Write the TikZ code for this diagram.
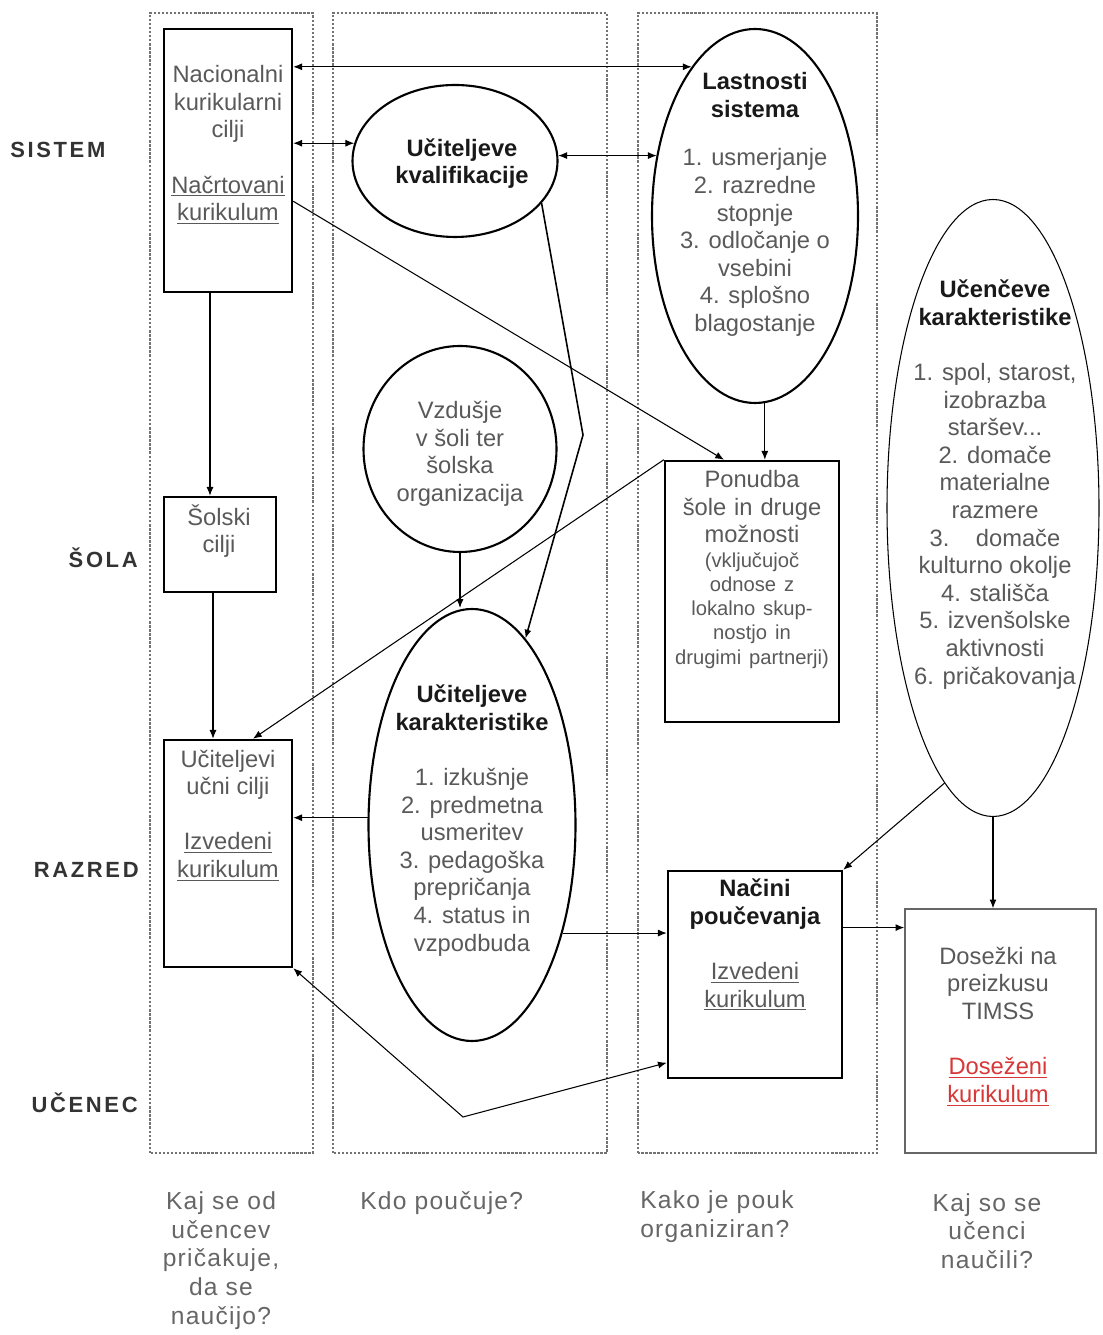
\documentclass[tikz,border=0pt]{standalone}
\usepackage{fontspec}
\setmainfont{Liberation Sans}
\usetikzlibrary{shapes.geometric,arrows.meta}
\definecolor{rdec}{RGB}{215,55,55}
\newcommand{\naslov}[1]{{\color{black!90}\bfseries #1}}

\begin{document}
\begin{tikzpicture}[>={Latex[length=5pt,width=4pt]},
  col/.style={draw=black!55,line width=.6pt,dash pattern=on 1.3pt off 1pt},
  box/.style={draw,rectangle,line width=1.4pt,inner sep=0pt},
  oval/.style={draw,ellipse,line width=1.2pt,inner sep=0pt},
  txt/.style={align=center,inner sep=0pt,text=black!65,font=\fontsize{13.5}{15.7}\selectfont},
  hd/.style={inner sep=0pt,text=black!80,font=\fontsize{12.5}{15}\selectfont\bfseries\addfontfeatures{LetterSpace=12}},
  q/.style={align=center,inner sep=0pt,text=black!60,font=\fontsize{14}{16.3}\selectfont\addfontfeatures{LetterSpace=5}},
  con/.style={line width=.6pt}]
  \useasboundingbox (0,0) rectangle (22.04,26.70);
  \draw[col] (3.00,3.64) rectangle (6.26,26.44);
  \draw[col] (6.66,3.64) rectangle (12.14,26.44);
  \draw[col] (12.76,3.64) rectangle (17.54,26.44);

  \node[hd,anchor=west] (12) at (0.20,23.70) {SISTEM};
  \node[hd,anchor=east] (13) at (2.76,15.54) {ŠOLA};
  \node[hd,anchor=east] (14) at (2.78,9.30) {RAZRED};
  \node[hd,anchor=east] (15) at (2.76,4.64) {UČENEC};

  \node[box,minimum width=2.56cm,minimum height=5.26cm] (1) at (4.56,23.49) {};
  \node[box,minimum width=2.24cm,minimum height=1.90cm] (2) at (4.40,15.81) {};
  \node[box,minimum width=2.56cm,minimum height=4.54cm] (3) at (4.56,9.63) {};
  \node[oval,minimum width=4.10cm,minimum height=3.04cm] (4) at (9.10,23.48) {};
  \node[oval,minimum width=3.86cm,minimum height=4.12cm] (5) at (9.20,17.72) {};
  \node[oval,minimum width=4.14cm,minimum height=8.64cm] (6) at (9.44,10.20) {};
  \node[oval,minimum width=4.12cm,minimum height=7.48cm] (7) at (15.10,22.38) {};
  \node[box,minimum width=3.48cm,minimum height=5.22cm] (8) at (15.04,14.87) {};
  \node[box,minimum width=3.48cm,minimum height=4.14cm] (9) at (15.10,7.21) {};
  \node[oval,line width=.6pt,minimum width=4.24cm,minimum height=12.34cm] (10) at (19.86,16.54) {};
  \node[box,draw=black!60,line width=.8pt,minimum width=3.82cm,minimum height=4.88cm] (11) at (20.01,6.08) {};

  \node[txt] (1t) at (4.56,23.80) {Nacionalni\\ kurikularni\\ cilji\\[15.7pt] \underline{Načrtovani}\\ \underline{kurikulum}};
  \node[txt] (2t) at (4.38,16.08) {Šolski\\ cilji};
  \node[txt] (3t) at (4.56,10.39) {Učiteljevi\\ učni cilji\\[15.7pt] \underline{Izvedeni}\\ \underline{kurikulum}};
  \node[txt] (4t) at (9.24,23.43) {\naslov{Učiteljeve}\\ \naslov{kvalifikacije}};
  \node[txt] (5t) at (9.20,17.62) {Vzdušje\\ v šoli ter\\ šolska\\ organizacija};
  \node[txt] (6t) at (9.44,10.29) {\naslov{Učiteljeve}\\ \naslov{karakteristike}\\[15.7pt] 1. izkušnje\\ 2. predmetna\\ usmeritev\\ 3. pedagoška\\ prepričanja\\ 4. status in\\ vzpodbuda};
  \node[txt] (7t) at (15.10,22.61) {\naslov{Lastnosti}\\ \naslov{sistema}\\[12pt] 1. usmerjanje\\ 2. razredne\\ stopnje\\ 3. odločanje o\\ vsebini\\ 4. splošno\\ blagostanje};
  \node[txt,text width=3.4cm] (8t) at (15.04,15.31) {Ponudba\\ šole in druge\\ možnosti\par
    {\fontsize{11.5}{13.8}\selectfont (vključujoč\\ odnose z\\ lokalno skup-\\ nostjo in\\ drugimi partnerji)\par}};
  \node[txt] (9t) at (15.10,7.80) {\naslov{Načini}\\ \naslov{poučevanja}\\[15.7pt] \underline{Izvedeni}\\ \underline{kurikulum}};
  \node[txt] (10t) at (19.90,17.01) {\naslov{Učenčeve}\\ \naslov{karakteristike}\\[15.7pt] 1. spol, starost,\\ izobrazba\\ staršev...\\ 2. domače\\ materialne\\ razmere\\ 3.\ \ \ \ domače\\ kulturno okolje\\ 4. stališča\\ 5. izvenšolske\\ aktivnosti\\ 6. pričakovanja};
  \node[txt] (11t) at (19.96,6.17) {Dosežki na\\ preizkusu\\ TIMSS\\[15.7pt] {\color{rdec}\underline{Doseženi}}\\ {\color{rdec}\underline{kurikulum}}};

  \node[q] (16) at (4.42,1.49) {Kaj se od\\ učencev\\ pričakuje,\\ da se\\ naučijo?};
  \node[q,anchor=west] (17) at (7.20,2.64) {Kdo poučuje?};
  \node[q,align=left,anchor=west] (18) at (12.80,2.37) {Kako je pouk\\ organiziran?};
  \node[q] (19) at (19.74,2.08) {Kaj so se\\ učenci\\ naučili?};

  \coordinate (s1) at ([xshift=-.36cm]1.south);
  \coordinate (s2) at ([xshift=-.14cm]2.south);
  \coordinate (s3) at ([xshift=.5cm]3.north);
  \coordinate (k) at (11.66,18.00);
  \coordinate (u) at (9.26,4.36);
  \draw[con,<->] (7.113 -| 1.east) -- (7.113);
  \draw[con,<->] (4.170 -| 1.east) -- (4.170);
  \draw[con,<->] (4.3) -- (7.148 |- 4.3);
  \draw[con,->] (1.-32) -- (8.102);
  \draw[con,->] (7.-87) -- (7.-87 |- 8.north);
  \draw[con,->] (s1) -- (s1 |- 2.north);
  \draw[con,->] (s2) -- (s2 |- 3.north);
  \draw[con,->] (8.north west) -- (s3);
  \draw[con,line width=.9pt,->] (4.-26) -- (k) -- (6.74);
  \draw[con,->] (5.south) -- (5.south |- 6.north);
  \draw[con,->] (6.176) -- (6.176 -| 3.east);
  \draw[con,->] (6.-50) -- (6.-50 -| 9.west);
  \draw[con,<->] (3.south east) -- (u) -- (9.225);
  \draw[con,->] (10.260) -- (9.north east);
  \draw[con,->] (10.south) -- (10.south |- 11.north);
  \draw[con,->] (9.28) -- (9.28 -| 11.west);
\end{tikzpicture}
\end{document}
